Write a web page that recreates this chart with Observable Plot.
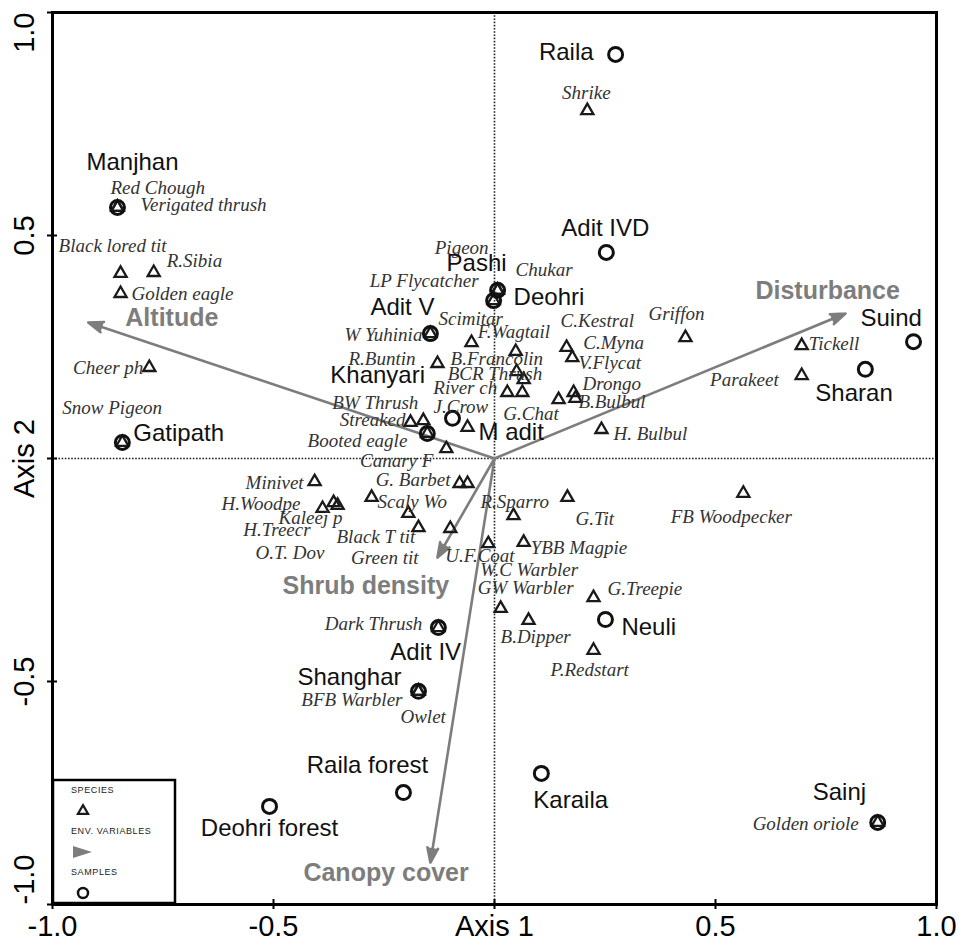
<!DOCTYPE html>
<html><head><meta charset="utf-8">
<script src="https://cdn.jsdelivr.net/npm/d3@7"></script>
<script src="https://cdn.jsdelivr.net/npm/@observablehq/plot@0.6"></script>
<style>
body{margin:0;background:#fff;}
#chart svg{display:block;}
</style></head><body><div id="chart"></div>
<script>
// ---------- data ----------
const xTicks = [-1, -0.5, 0, 0.5, 1];
const xTickLabels = ["-1.0", "-0.5", "Axis 1", "0.5", "1.0"];
const yTicks = [-1, -0.5, 0, 0.5, 1];
const yTickLabels = ["-1.0", "-0.5", "Axis 2", "0.5", "1.0"];

const sampleNames = ["Manjhan","Gatipath","Raila","Adit IVD","Pashi","Deohri","Adit V","Khanyari","M adit","Suind","Sharan","Adit IV","Shanghar","Neuli","Raila forest","Deohri forest","Karaila","Sainj"];
const sampleX = [-0.853,-0.842,0.274,0.253,0.007,-0.002,-0.145,-0.152,-0.095,0.948,0.839,-0.127,-0.172,0.251,-0.206,-0.509,0.106,0.867];
const sampleY = [0.563,0.036,0.906,0.462,0.377,0.354,0.280,0.056,0.090,0.262,0.200,-0.379,-0.522,-0.361,-0.749,-0.780,-0.706,-0.816];

const speciesNames = ["Red Chough","Verigated thrush","Black lored tit","R.Sibia","Golden eagle","Cheer ph","Snow Pigeon","Pigeon","LP Flycatcher","Chukar","W Yuhinia","Booted eagle","Dark Thrush","BFB Warbler","Owlet","Golden oriole","Shrike","Griffon","Tickell","Parakeet","Scimitar","F.Wagtail","R.Buntin","B.Francolin","BCR Thrush","River ch","G.Chat","J.Crow","Streaked","BW Thrush","Canary F","C.Kestral","C.Myna","V.Flycat","Drongo","B.Bulbul","H. Bulbul","Minivet","G. Barbet","O.T. Dov","H.Woodpe","Kaleej p","H.Treecr","Scaly Wo","Black T tit","Green tit","W.C Warbler","U.F.Coat","R.Sparro","G.Tit","FB Woodpecker","YBB Magpie","G.Treepie","GW Warbler","B.Dipper","P.Redstart"];
const speciesX = [-0.853,-0.853,-0.846,-0.771,-0.846,-0.781,-0.842,0.007,0.007,-0.002,-0.145,-0.152,-0.127,-0.172,-0.172,0.867,0.210,0.432,0.695,0.695,-0.052,0.048,-0.129,0.050,0.066,0.029,0.063,-0.061,-0.190,-0.161,-0.109,0.163,0.176,0.145,0.179,0.183,0.242,-0.407,-0.079,-0.061,-0.389,-0.364,-0.355,-0.278,-0.195,-0.172,-0.100,-0.014,0.043,0.165,0.563,0.066,0.224,0.014,0.077,0.224];
const speciesY = [0.563,0.563,0.415,0.417,0.370,0.204,0.036,0.377,0.377,0.354,0.280,0.056,-0.379,-0.522,-0.522,-0.816,0.780,0.271,0.253,0.186,0.260,0.240,0.213,0.195,0.177,0.148,0.148,0.070,0.081,0.085,0.022,0.249,0.226,0.132,0.148,0.135,0.065,-0.052,-0.056,-0.056,-0.112,-0.099,-0.105,-0.087,-0.123,-0.155,-0.157,-0.191,-0.128,-0.087,-0.078,-0.188,-0.312,-0.336,-0.363,-0.430];

const envNames = ["Altitude","Disturbance","Shrub density","Canopy cover"];
const envX = [-0.919, 0.794, -0.129, -0.145];
const envY = [0.305, 0.325, -0.222, -0.906];

const legendLabels = ["SPECIES", "ENV. VARIABLES", "SAMPLES"];

// ---------- layout (label offsets in px from the point, text anchor) ----------
const sampleLabelLayout = {
  "Manjhan":[15,-45,"middle"],"Gatipath":[11,-9,"start"],"Raila":[-22,-2,"end"],"Adit IVD":[-1,-24,"middle"],
  "Pashi":[-51,-27,"start"],"Deohri":[20,-3,"start"],"Adit V":[-60,-26,"start"],"Khanyari":[-97,-58,"start"],
  "M adit":[26,14,"start"],"Suind":[-53,-23,"start"],"Sharan":[-50,24,"start"],"Adit IV":[-48,25,"start"],
  "Shanghar":[-121,-14,"start"],"Neuli":[16,8,"start"],"Raila forest":[-36,-27,"middle"],
  "Deohri forest":[0,22,"middle"],"Karaila":[-8,27,"start"],"Sainj":[-65,-30,"start"]
};
const speciesLabelLayout = {
  "Red Chough":[-7,-19,"start"],"Verigated thrush":[23,-2,"start"],"Black lored tit":[-8,-28,"middle"],
  "R.Sibia":[13,-12,"start"],"Golden eagle":[11,0,"start"],"Cheer ph":[-6,0,"end"],"Snow Pigeon":[-60,-35,"start"],
  "Pigeon":[-9,-42,"end"],"LP Flycatcher":[-19,-9,"end"],"Chukar":[22,-31,"start"],"W Yuhinia":[-8,1,"end"],
  "Booted eagle":[-20,7,"end"],"Dark Thrush":[-16,-4,"end"],"BFB Warbler":[-16,9,"end"],"Owlet":[-18,26,"start"],
  "Golden oriole":[-19,1,"end"],"Shrike":[-1,-18,"middle"],"Griffon":[-9,-24,"middle"],"Tickell":[7,-2,"start"],
  "Parakeet":[-23,4,"end"],"Scimitar":[-33,-24,"start"],"F.Wagtail":[-38,-20,"start"],"R.Buntin":[-22,-5,"end"],
  "B.Francolin":[-66,-13,"start"],"BCR Thrush":[-76,-6,"start"],"River ch":[-74,-5,"start"],"G.Chat":[-19,21,"start"],
  "J.Crow":[-34,-20,"start"],"Streaked":[-5,-2,"end"],"BW Thrush":[-5,-18,"end"],"Canary F":[-13,12,"end"],
  "C.Kestral":[-6,-27,"start"],"C.Myna":[11,-15,"start"],"V.Flycat":[20,-37,"start"],"Drongo":[9,-9,"start"],
  "B.Bulbul":[3,4,"start"],"H. Bulbul":[12,4,"start"],"Minivet":[-11,1,"end"],"G. Barbet":[-9,-4,"end"],
  "O.T. Dov":[-212,69,"start"],"H.Woodpe":[-22,-5,"end"],"Kaleej p":[-55,15,"start"],"H.Treecr":[-27,25,"end"],
  "Scaly Wo":[6,5,"start"],"Black T tit":[7,24,"end"],"Green tit":[0,30,"end"],"W.C Warbler":[30,41,"start"],
  "U.F.Coat":[-43,12,"start"],"R.Sparro":[-33,-14,"start"],"G.Tit":[8,22,"start"],"FB Woodpecker":[-12,24,"middle"],
  "YBB Magpie":[7,6,"start"],"G.Treepie":[14,-9,"start"],"GW Warbler":[-23,-20,"start"],"B.Dipper":[-28,17,"start"],
  "P.Redstart":[-43,20,"start"]
};
const envLabelLayout = {
  "Altitude":[37,-4,"start"],"Disturbance":[-90,-23,"start"],"Shrub density":[-155,28,"start"],"Canopy cover":[-127,10,"start"]
};

// ---------- chart ----------
const W = 959, H = 949, ML = 52, MR = 23, MT = 12, MB = 45;
const xs = d3.scaleLinear([-1, 1], [ML, W - MR]);
const ys = d3.scaleLinear([-1, 1], [H - MB, MT]);

function rows(names, xv, yv, layout) {
  return names.map((n, i) => {
    const [dx, dy, anchor] = layout[n];
    return {name: n, x: xv[i], y: yv[i], lx: xs.invert(xs(xv[i]) + dx), ly: ys.invert(ys(yv[i]) + dy), anchor};
  });
}
const samples = rows(sampleNames, sampleX, sampleY, sampleLabelLayout);
const species = rows(speciesNames, speciesX, speciesY, speciesLabelLayout);
const env = rows(envNames, envX, envY, envLabelLayout);

function labelMarks(data, style) {
  return ["start", "middle", "end"].map(a =>
    Plot.text(data.filter(d => d.anchor === a), {x: "lx", y: "ly", text: "name", textAnchor: a, ...style}));
}

const SANS = "'Liberation Sans', Arial, sans-serif";
const SERIF = "'Liberation Serif', 'Times New Roman', serif";
const GRAY = "#7d7d7d";

const yAnchorOf = v => v === 1 ? "end" : v === -1 ? "start" : "middle";
const yLab = yTicks.map((v, i) => ({v, label: yTickLabels[i], anchor: yAnchorOf(v)}));

const chart = Plot.plot({
  width: W, height: H,
  marginLeft: ML, marginRight: MR, marginTop: MT, marginBottom: MB,
  x: {domain: [-1, 1]},
  y: {domain: [-1, 1]},
  style: {fontFamily: SANS, background: "#fff", color: "#000"},
  marks: [
    Plot.ruleX([0], {stroke: "#222", strokeWidth: 1.6, strokeDasharray: "1.6,1.6"}),
    Plot.ruleY([0], {stroke: "#222", strokeWidth: 1.6, strokeDasharray: "1.6,1.6"}),
    Plot.frame({stroke: "#000", strokeWidth: 3}),
    Plot.arrow(env, {x1: () => 0, y1: () => 0, x2: "x", y2: "y", stroke: GRAY, fill: GRAY, strokeWidth: 2.6, headLength: 9, headAngle: 40}),
    Plot.dot(species, {x: "x", y: "y", symbol: "triangle", r: 4.5, stroke: "#1a1a1a", strokeWidth: 2.3, fill: "none"}),
    Plot.dot(samples, {x: "x", y: "y", r: 7, stroke: "#111", strokeWidth: 3, fill: "none"}),
    ...labelMarks(species, {fontFamily: SERIF, fontStyle: "italic", fontSize: 19, fill: "#333"}),
    ...labelMarks(samples, {fontFamily: SANS, fontSize: 24, fill: "#111"}),
    ...labelMarks(env, {fontFamily: SANS, fontWeight: "bold", fontSize: 25, fill: GRAY}),
    Plot.axisX({ticks: xTicks, tickSize: 10, dy: -5, tickPadding: 6, strokeWidth: 2,
      tickFormat: d => xTickLabels[xTicks.indexOf(d)], fontSize: 29, fontFamily: SANS, fill: "#000", label: null}),
    Plot.axisY({ticks: yTicks, tickSize: 10, dx: 5, strokeWidth: 2, tickFormat: () => "", label: null}),
    ...["start", "middle", "end"].map(a =>
      Plot.text(yLab.filter(d => d.anchor === a), {y: "v", text: "label", frameAnchor: "left", dx: -28,
        rotate: -90, textAnchor: a, fontSize: 29, fontFamily: SANS, fill: "#000"}))
  ]
});
document.getElementById("chart").appendChild(chart);

// ---------- legend box (bottom-left, inside the frame) ----------
const svg = d3.select(chart);
const g = svg.append("g").attr("class", "legend").attr("text-anchor", "start");
g.append("rect").attr("x", 53).attr("y", 780).attr("width", 122).attr("height", 123)
  .attr("fill", "#fff").attr("stroke", "#000").attr("stroke-width", 2.5);
const legY = [790, 831, 872];
legendLabels.forEach((t, i) => g.append("text").attr("x", 71).attr("y", legY[i]).attr("dy", "0.35em")
  .attr("text-anchor", "start").attr("font-size", 9).attr("font-family", SANS).attr("fill", "#222")
  .attr("letter-spacing", 0.6).text(t));
g.append("path").attr("transform", "translate(83,811)").attr("d", d3.symbol(d3.symbolTriangle, 45)())
  .attr("fill", "none").attr("stroke", "#1a1a1a").attr("stroke-width", 2.2);
g.append("path").attr("d", "M73,846 L92,852 L73,858 Z").attr("fill", GRAY);
g.append("circle").attr("cx", 83).attr("cy", 893).attr("r", 5).attr("fill", "none").attr("stroke", "#111").attr("stroke-width", 2.5);
</script>
</body></html>
